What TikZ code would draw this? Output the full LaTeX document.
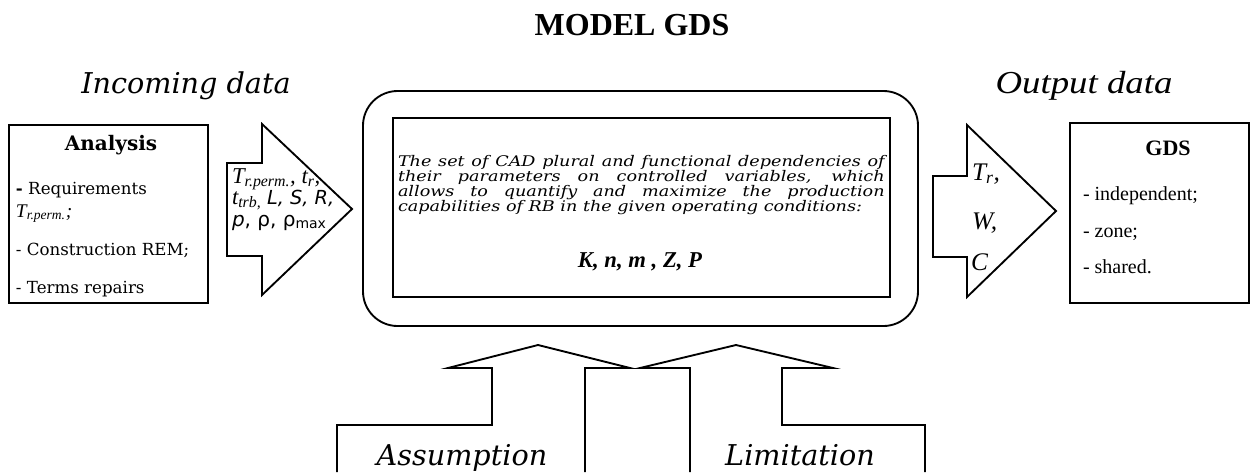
\documentclass[tikz,border=0pt]{standalone}
\usepackage{fontspec}
\setmainfont{Liberation Serif}
\newfontfamily\bkfont{DejaVu Serif}
\newfontfamily\bkwide[FakeStretch=1.2]{DejaVu Serif}
\newfontfamily\timeswide[FakeStretch=1.15]{Liberation Serif}
\newfontfamily\dvsfont{DejaVu Sans}
\newcommand\fsz[1]{\fontsize{#1}{#1}\selectfont}
\newcommand\lineS[1]{\makebox[365pt][s]{#1}}
\begin{document}
\begin{tikzpicture}[x=0.75pt,y=-0.75pt,
  boxline/.style={draw=black, line width=1.6pt},
  blockarrow/.style={draw=black, line width=1.4pt, line join=miter, miter limit=20},
  txt/.style={inner sep=0pt, outer sep=0pt},
  headfont/.style={font=\bkfont\itshape\fsz{21.5pt}},
  anfont/.style={font=\bkfont\fsz{12.5pt}},
  gdsfont/.style={font=\fsz{15pt}},
  outfont/.style={font=\itshape\fsz{19pt}},
]
\useasboundingbox[fill=white] (0,0) rectangle (1252,472);

% titles
\node[txt, anchor=base, font=\bfseries\fsz{24pt}] (title) at (632,35) {MODEL GDS};
\node[txt, anchor=base, headfont] (incoming) at (186,93) {Incoming data};
\node[txt, anchor=base, font=\timeswide\itshape\fsz{24pt}] (output) at (1084,93) {Output data};

% Analysis box
\draw[boxline] (9,125) rectangle (208,303);
\node[txt, anchor=base, font=\bkfont\bfseries\fsz{15pt}] (antitle) at (111,150) {Analysis};
\node[txt, anchor=base west, anfont] (req) at (16,194) {{\bfseries -} Requirements};
\node[txt, anchor=base west, font=\itshape\fsz{14.5pt}] (treq) at (16,217) {T\textsubscript{r.perm.};};
\node[txt, anchor=base west, anfont] (constr) at (16,255) {- Construction REM;};
\node[txt, anchor=base west, anfont] (terms) at (16,293) {- Terms repairs};

% incoming arrow
\draw[blockarrow] (227,163) -- (262,163) -- (262,124) -- (352,209) -- (262,295) -- (262,256) -- (227,256) -- cycle;
\node[txt, anchor=base west, font=\itshape\fsz{17pt}] (in1) at (232,183) {T\textsubscript{r.perm.}, t\textsubscript{r},};
\node[txt, anchor=base west, font=\fsz{17pt}] (in2) at (232,204) {\itshape t\textsubscript{trb,} {\dvsfont\itshape\fsz{14.5pt}L, S, R,}};
\node[txt, anchor=base west, font=\dvsfont\fsz{15pt}] (in3) at (232,226) {{\itshape p}, ρ, ρ\textsubscript{max}};

% central block
\draw[line width=1.4pt, rounded corners=26pt] (363,91) rectangle (918,326);
\draw[line width=1.4pt] (393,118) rectangle (890,297);
\node[txt, anchor=north west, align=left, font=\bkwide\itshape\fontsize{11pt}{11.25pt}\selectfont] (desc) at (398,155)
  {\lineS{The set of CAD plural and functional dependencies of}\\
   \lineS{their parameters on controlled variables, which}\\
   \lineS{allows to quantify and maximize the production}\\
   capabilities of RB in the given operating conditions:};
\node[txt, anchor=base, font=\bfseries\itshape\fsz{17pt}] (params) at (640,267) {K, n, m , Z, P};

% output arrow
\draw[blockarrow] (933,176) -- (967,176) -- (967,125) -- (1056,211) -- (967,297) -- (967,257) -- (933,257) -- cycle;
\node[txt, anchor=base west, outfont] (o1) at (972,180) {T\textsubscript{r},};
\node[txt, anchor=base west, outfont] (o2) at (972,229) {W,};
\node[txt, anchor=base west, outfont] (o3) at (971,270) {C};

% GDS box
\draw[boxline] (1070,123) rectangle (1249,303);
\node[txt, anchor=base, font=\bfseries\fsz{16.5pt}] (gdstitle) at (1168,155) {GDS};
\node[txt, anchor=base west, gdsfont] (g1) at (1083,200) {- independent;};
\node[txt, anchor=base west, gdsfont] (g2) at (1083,237) {- zone;};
\node[txt, anchor=base west, gdsfont] (g3) at (1083,273) {- shared.};

% bottom arrows
\draw[blockarrow] (337,472) -- (337,425) -- (492,425) -- (492,368) -- (448,368) -- (538,345) -- (630,368) -- (585,368) -- (585,472);
\draw[blockarrow] (925,472) -- (925,425) -- (782,425) -- (782,368) -- (833,368) -- (736,345) -- (640,368) -- (690,368) -- (690,472);
\node[txt, anchor=base, headfont] (assump) at (462,465) {Assumption};
\node[txt, anchor=base, headfont] (limit) at (800,465) {Limitation};
\end{tikzpicture}
\end{document}
